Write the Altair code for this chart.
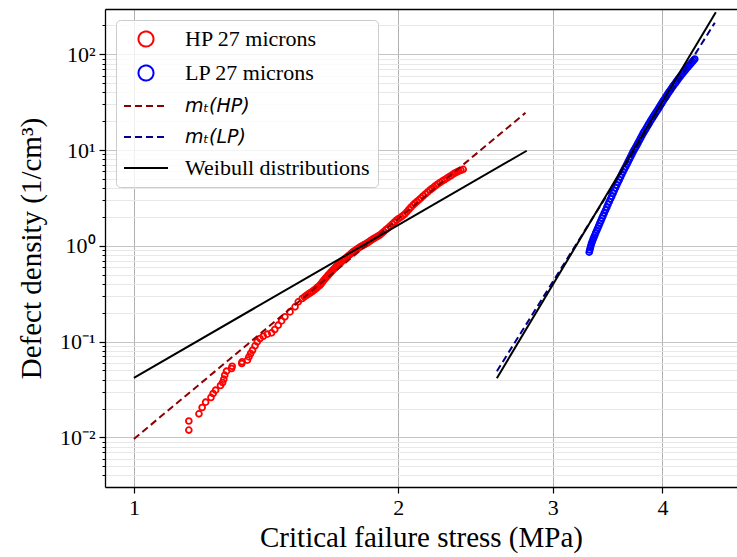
import altair as alt
import pandas as pd

# ---------------- data ----------------
series_names = ["HP 27 microns", "LP 27 microns", "mₜ(HP)", "mₜ(LP)", "Weibull distributions"]
series_colors = ["#ff0000", "#0000ff", "#8b0000", "#00008b", "#000000"]

hp_x = [1.155, 1.155, 1.186, 1.196, 1.207, 1.224, 1.231, 1.239, 1.255, 1.262,
        1.266, 1.269, 1.275, 1.292, 1.294, 1.327, 1.328, 1.347, 1.352, 1.358,
        1.365, 1.374, 1.382, 1.392, 1.404, 1.419, 1.435, 1.447, 1.460, 1.473,
        1.486, 1.506, 1.526, 1.539,
        1.555, 1.573, 1.587, 1.599, 1.614, 1.629, 1.639, 1.650, 1.661, 1.672,
        1.683, 1.694, 1.705, 1.717, 1.732, 1.748, 1.762, 1.777, 1.792, 1.809,
        1.826, 1.841, 1.857, 1.872, 1.889, 1.906, 1.926, 1.947, 1.969, 1.992,
        2.015, 2.035, 2.057, 2.080, 2.101, 2.123, 2.148, 2.174, 2.196, 2.219,
        2.245, 2.271, 2.296, 2.321, 2.345, 2.372,
        1.564, 1.580, 1.593, 1.606, 1.621, 1.634, 1.644, 1.655, 1.666, 1.677,
        1.688, 1.699, 1.711, 1.724, 1.740, 1.755, 1.769, 1.784, 1.800, 1.817,
        1.833, 1.849, 1.864, 1.880, 1.897, 1.916, 1.936, 1.958, 1.980, 2.003,
        2.025, 2.046, 2.068, 2.090, 2.112, 2.135, 2.161, 2.185, 2.207, 2.232,
        2.258, 2.283, 2.308, 2.333, 2.358]
hp_y = [0.0119, 0.0148, 0.0176, 0.0205, 0.0233, 0.0261, 0.0287, 0.0311, 0.0348, 0.0374,
        0.0405, 0.0446, 0.0491, 0.0524, 0.0553, 0.0590, 0.0614, 0.0640, 0.0692, 0.0751,
        0.0813, 0.0902, 0.0993, 0.1077, 0.1138, 0.1195, 0.1233, 0.1337, 0.1483, 0.1644,
        0.1812, 0.2042, 0.2305, 0.2600,
        0.282, 0.305, 0.321, 0.336, 0.361, 0.388, 0.417, 0.449, 0.482, 0.515,
        0.551, 0.585, 0.621, 0.655, 0.709, 0.762, 0.809, 0.866, 0.912, 0.969,
        1.017, 1.059, 1.120, 1.175, 1.233, 1.293, 1.407, 1.531, 1.685, 1.857,
        1.995, 2.143, 2.390, 2.663, 2.897, 3.15, 3.47, 3.82, 4.10, 4.42,
        4.74, 5.06, 5.39, 5.75, 6.04, 6.29,
        0.293, 0.313, 0.328, 0.348, 0.374, 0.402, 0.433, 0.465, 0.498, 0.533,
        0.568, 0.603, 0.638, 0.682, 0.735, 0.785, 0.837, 0.889, 0.940, 0.993,
        1.038, 1.089, 1.147, 1.204, 1.263, 1.349, 1.468, 1.606, 1.769, 1.925,
        2.068, 2.263, 2.524, 2.778, 3.02, 3.31, 3.64, 3.96, 4.26, 4.58,
        4.90, 5.22, 5.57, 5.89, 6.16]

lp_x = [3.301, 3.311, 3.321, 3.335, 3.350, 3.367, 3.385, 3.404, 3.423, 3.446,
        3.468, 3.491, 3.514, 3.537, 3.560, 3.584, 3.607, 3.632, 3.656, 3.680,
        3.704, 3.729, 3.753, 3.778, 3.803, 3.828, 3.853, 3.878, 3.904, 3.930,
        3.956, 3.981, 4.007, 4.034, 4.060, 4.087, 4.114, 4.141, 4.168, 4.195,
        4.223, 4.251, 4.279, 4.303, 4.328, 4.354,
        3.306, 3.316, 3.328, 3.342, 3.358, 3.376, 3.394, 3.413, 3.434, 3.457,
        3.479, 3.502, 3.525, 3.548, 3.572, 3.595, 3.619, 3.644, 3.668, 3.692,
        3.716, 3.741, 3.765, 3.790, 3.815, 3.840, 3.865, 3.891, 3.917, 3.943,
        3.968, 3.994, 4.020, 4.047, 4.073, 4.100, 4.127, 4.154, 4.181, 4.209,
        4.237, 4.265, 4.291, 4.315, 4.341]
lp_y = [0.859, 0.953, 1.060, 1.169, 1.294, 1.448, 1.618, 1.825, 2.058, 2.361,
        2.708, 3.091, 3.528, 4.027, 4.598, 5.224, 5.932, 6.69, 7.546, 8.51,
        9.60, 10.70, 11.92, 13.35, 14.95, 16.50, 18.25, 20.19, 22.28, 24.47,
        26.82, 29.53, 32.51, 35.62, 39.13, 42.67, 46.65, 50.5, 54.8, 59.3,
        64.2, 69.0, 74.2, 78.8, 83.7, 89.3,
        0.905, 1.005, 1.113, 1.230, 1.369, 1.530, 1.718, 1.938, 2.204, 2.528,
        2.893, 3.284, 3.769, 4.303, 4.901, 5.567, 6.300, 7.105, 8.01, 9.04,
        10.13, 11.29, 12.61, 14.13, 15.71, 17.35, 19.19, 21.21, 23.35, 25.62,
        28.14, 30.98, 34.03, 37.33, 40.86, 44.61, 48.54, 52.6, 57.0, 61.7,
        66.6, 71.6, 76.5, 81.2, 86.5]

# fitted lines (end points)
mt_hp_x = [1.0, 2.793]
mt_hp_y = [0.00962, 24.5]
mt_lp_x = [2.591, 4.589]
mt_lp_y = [0.049, 213.8]
wb_hp_x = [1.0, 2.802]
wb_hp_y = [0.0418, 9.83]
wb_lp_x = [2.591, 4.601]
wb_lp_y = [0.0415, 274.8]

x_ticks = [1, 2, 3, 4]
y_ticks = [0.01, 0.1, 1, 10, 100]
y_minor = [0.004, 0.005, 0.006, 0.007, 0.008, 0.009,
           0.02, 0.03, 0.04, 0.05, 0.06, 0.07, 0.08, 0.09,
           0.2, 0.3, 0.4, 0.5, 0.6, 0.7, 0.8, 0.9,
           2, 3, 4, 5, 6, 7, 8, 9,
           20, 30, 40, 50, 60, 70, 80, 90, 200]

# ---------------- tables ----------------
points_df = pd.DataFrame({
    "stress": hp_x + lp_x,
    "density": hp_y + lp_y,
    "series": [series_names[0]] * len(hp_x) + [series_names[1]] * len(lp_x),
})
dashed_df = pd.DataFrame({
    "stress": mt_hp_x + mt_lp_x,
    "density": mt_hp_y + mt_lp_y,
    "series": [series_names[2]] * 2 + [series_names[3]] * 2,
})
weibull_df = pd.DataFrame({
    "stress": wb_hp_x + wb_lp_x,
    "density": wb_hp_y + wb_lp_y,
    "series": [series_names[4]] * 4,
    "group": ["HP", "HP", "LP", "LP"],
})

SERIF = "Liberation Serif"

x_scale = alt.Scale(type="log", domain=[0.927, 4.864], nice=False)
y_scale = alt.Scale(type="log", domain=[0.00303, 297], nice=False)
color_scale = alt.Scale(domain=series_names, range=series_colors)

is_point = f"(datum.value == '{series_names[0]}' || datum.value == '{series_names[1]}')"
is_math = f"(datum.value == '{series_names[2]}' || datum.value == '{series_names[3]}')"

CIRCLE_PATH = "M-0.75,0A0.75,0.75 0 1,0 0.75,0A0.75,0.75 0 1,0 -0.75,0Z"
LINE_PATH = "M-2.2,0L2.2,0"

legend = alt.Legend(
    title=None,
    orient="none",
    legendX=11,
    legendY=11,
    symbolSize=400,
    symbolStrokeWidth=2,
    symbolType={"expr": f"{is_point} ? '{CIRCLE_PATH}' : '{LINE_PATH}'"},
    symbolDash={"expr": f"{is_math} ? [7, 4] : [1, 0]"},
    symbolFillColor="transparent",
    symbolOffset=11,
    labelOffset=28,
    labelFont={"expr": f"{is_math} ? 'DejaVu Sans' : '{SERIF}'"},
    labelFontStyle={"expr": f"{is_math} ? 'italic' : 'normal'"},
    labelFontSize={"expr": f"{is_math} ? 19 : 22"},
    labelColor="black",
    labelLimit=400,
    rowPadding=10,
    padding=8,
    fillColor="rgba(255,255,255,0.8)",
    strokeColor="#cccccc",
    cornerRadius=4,
)

x_axis_main = alt.Axis(
    values=x_ticks, format="d", grid=True, gridColor="#b0b0b0", gridWidth=1,
    domainColor="black", domainWidth=1.3, tickColor="black", tickSize=6, tickWidth=1.2,
    labelFont=SERIF, labelFontSize=22, labelColor="black", labelPadding=4,
    title="Critical failure stress (MPa)", titleFont=SERIF, titleFontSize=29,
    titleFontWeight="normal", titleColor="black", titlePadding=5,
)
x_axis_top = alt.Axis(
    orient="top", domain=True, domainColor="black", domainWidth=1.3,
    ticks=False, labels=False, grid=False, title="",
)
y_axis_main = alt.Axis(
    values=y_ticks,
    labelExpr="['10⁻²','10⁻¹','10⁰','10¹','10²'][round(log(datum.value)/LN10) + 2]",
    grid=True, gridColor="#c4c4c4", gridWidth=1.2,
    domainColor="black", domainWidth=1.3, tickColor="black", tickSize=6, tickWidth=1.2,
    labelFont=SERIF, labelFontSize=22, labelColor="black", labelPadding=4,
    title="Defect density (1/cm³)", titleFont=SERIF, titleFontSize=29,
    titleFontWeight="normal", titleColor="black", titlePadding=13,
)
y_axis_minor = alt.Axis(
    orient="left", values=y_minor, grid=True, gridColor="#e8e8e8", gridWidth=1,
    domain=False, tickColor="black", tickSize=3, tickWidth=1, labels=False, title="",
)

points = alt.Chart(points_df).mark_point(
    shape="circle", filled=False, size=34, strokeWidth=1.8, opacity=1
).encode(
    x=alt.X("stress:Q", scale=x_scale, axis=x_axis_main),
    y=alt.Y("density:Q", scale=y_scale, axis=y_axis_main),
    color=alt.Color("series:N", scale=color_scale, legend=legend),
)

dashed = alt.Chart(dashed_df).mark_line(strokeDash=[7, 4], strokeWidth=2).encode(
    x=alt.X("stress:Q", scale=x_scale, axis=x_axis_top),
    y=alt.Y("density:Q", scale=y_scale, axis=y_axis_minor),
    color=alt.Color("series:N", scale=color_scale, legend=legend),
    detail="series:N",
)

weibull = alt.Chart(weibull_df).mark_line(strokeWidth=2).encode(
    x=alt.X("stress:Q", scale=x_scale, axis=None),
    y=alt.Y("density:Q", scale=y_scale, axis=None),
    color=alt.Color("series:N", scale=color_scale, legend=legend),
    detail="group:N",
)

chart = alt.layer(points, dashed, weibull).resolve_axis(
    x="independent", y="independent"
).properties(
    width=632, height=478,
    padding={"left": 105, "top": 9, "right": 0, "bottom": 70},
    autosize="none",
    background="white",
).configure_view(strokeWidth=0)

chart.save("out.html", embed_options={"renderer": "svg", "actions": False})
